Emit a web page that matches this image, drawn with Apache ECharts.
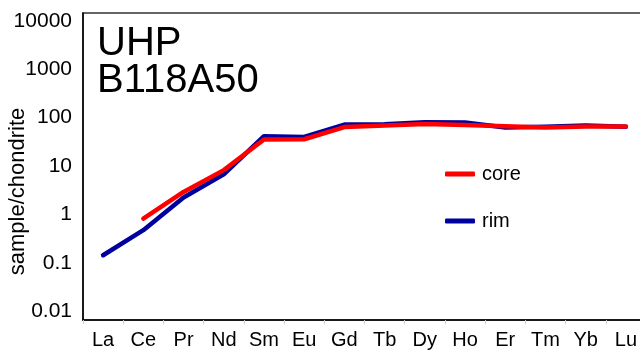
<!DOCTYPE html>
<html>
<head>
<meta charset="utf-8">
<script src="https://cdn.jsdelivr.net/npm/echarts@6/dist/echarts.min.js"></script>
<style>html,body{margin:0;padding:0;background:#fff}#c{width:640px;height:351px}</style>
</head>
<body>
<div id="c"></div>
<script>
const categories = ['La','Ce','Pr','Nd','Sm','Eu','Gd','Tb','Dy','Ho','Er','Tm','Yb','Lu'];
const coreValues = [null, 0.83, 2.95, 8.3, 35.5, 36, 64, 69, 74, 71, 67, 63, 66, 66];
const rimValues  = [0.146, 0.48, 2.26, 6.8, 41.6, 40, 72, 73, 81, 80, 63, 65, 69, 65];
const yTicks = [0.01, 0.1, 1, 10, 100, 1000, 10000];
const titleLines = ['UHP', 'B118A50'];
const yName = 'sample/chondrite';

const font = 'Liberation Sans, Arial, sans-serif';
const chart = echarts.init(document.getElementById('c'));
chart.setOption({
  animation: false,
  backgroundColor: '#fff',
  title: {
    text: titleLines.join('\n'),
    left: 92, top: 21,
    textStyle: { fontFamily: font, fontSize: 40, fontWeight: 'normal', color: '#000', lineHeight: 36.5 }
  },
  legend: {
    data: ['core', 'rim'],
    orient: 'vertical',
    left: 440, top: 159,
    itemWidth: 30, itemHeight: 5, itemGap: 27,
    icon: 'roundRect',
    textStyle: { fontFamily: font, fontSize: 20, color: '#000', padding: [0, 0, 0, 2] }
  },
  grid: {
    left: 83, top: 13, right: -6, bottom: 31,
    outerBoundsMode: 'none',
    containLabel: false,
    show: true, borderColor: '#333', borderWidth: 1.5
  },
  xAxis: {
    type: 'category',
    data: categories,
    boundaryGap: true,
    axisLine: { lineStyle: { color: '#000', width: 1.5 } },
    axisTick: { show: true, length: 4, lineStyle: { color: '#ccc', width: 1 } },
    axisLabel: { fontFamily: font, fontSize: 20, color: '#000', margin: 10, interval: 0 }
  },
  yAxis: {
    type: 'log',
    logBase: 10,
    min: 0.00674,
    max: 14420,
    name: yName,
    nameLocation: 'middle',
    nameGap: 54,
    nameMoveOverlap: false,
    nameTextStyle: { fontFamily: font, fontSize: 22, color: '#000', padding: [0, 50, 0, 0] },
    axisLine: { show: true, lineStyle: { color: '#000', width: 1.5 } },
    axisTick: { show: false },
    splitLine: { show: false },
    axisLabel: {
      fontFamily: font, fontSize: 21, color: '#000', margin: 11,
      formatter: function (v) {
        for (const t of yTicks) { if (Math.abs(Math.log10(v) - Math.log10(t)) < 1e-6) return String(t); }
        return '';
      }
    }
  },
  series: [
    {
      name: 'rim', type: 'line', data: rimValues,
      color: '#00009f', showSymbol: false, symbol: 'none',
      lineStyle: { width: 4.5, color: '#00009f', cap: 'round', join: 'round' },
      z: 2
    },
    {
      name: 'core', type: 'line', data: coreValues,
      color: '#ff0000', showSymbol: false, symbol: 'none',
      lineStyle: { width: 4.5, color: '#ff0000', cap: 'round', join: 'round' },
      z: 3
    }
  ]
});
</script>
</body>
</html>
